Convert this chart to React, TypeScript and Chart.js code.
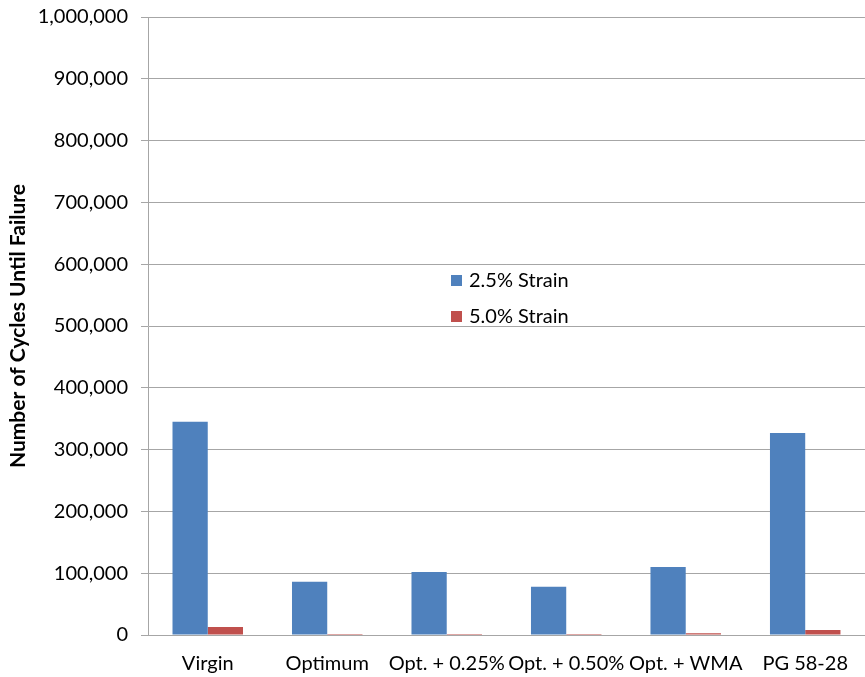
import React, { useEffect, useRef } from "react";
import { Chart, registerables } from "chart.js";

Chart.register(...registerables);

const categories = ["Virgin", "Optimum", "Opt. + 0.25%", "Opt. + 0.50%", "Opt. + WMA", "PG 58-28"];
const strain25 = [345000, 86000, 102000, 78000, 110000, 327000];
const strain50 = [13000, 1500, 1500, 1500, 3000, 8000];
const seriesLabels = ["2.5% Strain", "5.0% Strain"];
const seriesColors = ["#4F81BD", "#C0504D"];

const FONT = "Lato, 'Open Sans', sans-serif";

// Legend drawn inside the plot area, as a two-row key
const innerLegend = {
  id: "innerLegend",
  afterDraw(chart: any) {
    const ctx = chart.ctx;
    const x = 451;
    const ys = [280, 316];
    ctx.save();
    ctx.font = `20px ${FONT}`;
    ctx.textBaseline = "middle";
    ctx.textAlign = "left";
    chart.data.datasets.forEach((ds: any, i: number) => {
      ctx.fillStyle = ds.backgroundColor;
      ctx.fillRect(x, ys[i] - 5, 11, 11);
      ctx.fillStyle = "#000";
      ctx.fillText(ds.label, x + 18, ys[i] + 1);
    });
    ctx.restore();
  },
};

export default function App() {
  const ref = useRef<HTMLCanvasElement>(null);

  useEffect(() => {
    document.body.style.margin = "0";
    const chart = new Chart(ref.current!, {
      type: "bar",
      data: {
        labels: categories,
        datasets: [
          {
            label: seriesLabels[0],
            data: strain25,
            backgroundColor: seriesColors[0],
            categoryPercentage: 0.59,
            barPercentage: 1,
          },
          {
            label: seriesLabels[1],
            data: strain50,
            backgroundColor: seriesColors[1],
            categoryPercentage: 0.59,
            barPercentage: 1,
          },
        ],
      },
      options: {
        animation: false,
        responsive: false,
        maintainAspectRatio: false,
        layout: { padding: { top: 17, left: 0, right: 0, bottom: 0 } },
        plugins: {
          legend: { display: false },
          tooltip: { enabled: false },
        },
        scales: {
          x: {
            grid: { display: false, drawTicks: false },
            border: { display: true, color: "#a6a6a6", width: 1 },
            ticks: {
              color: "#000",
              font: { family: FONT, size: 20 },
              padding: 17,
              maxRotation: 0,
              autoSkip: false,
            },
            afterFit(scale: any) {
              scale.height = 42;
            },
          },
          y: {
            min: 0,
            max: 1000000,
            ticks: {
              stepSize: 100000,
              color: "#000",
              font: { family: FONT, size: 20 },
              padding: 13,
              callback: (v: any) => Number(v).toLocaleString("en-US"),
            },
            grid: {
              color: "#a6a6a6",
              tickLength: 7,
              drawTicks: true,
            },
            border: { display: true, color: "#a6a6a6", width: 1 },
            title: {
              display: true,
              text: "Number of Cycles Until Failure",
              color: "#000",
              font: { family: FONT, size: 21, weight: "bold" },
              padding: { top: 6, bottom: 0 },
            },
            afterFit(scale: any) {
              scale.width = 148;
              scale.paddingTop = 0;
              scale.paddingBottom = 0;
            },
          },
        },
      },
      plugins: [innerLegend],
    });
    return () => chart.destroy();
  }, []);

  return (
    <div style={{ width: 865, height: 677 }}>
      <canvas ref={ref} width={865} height={677} style={{ display: "block" }} />
    </div>
  );
}
